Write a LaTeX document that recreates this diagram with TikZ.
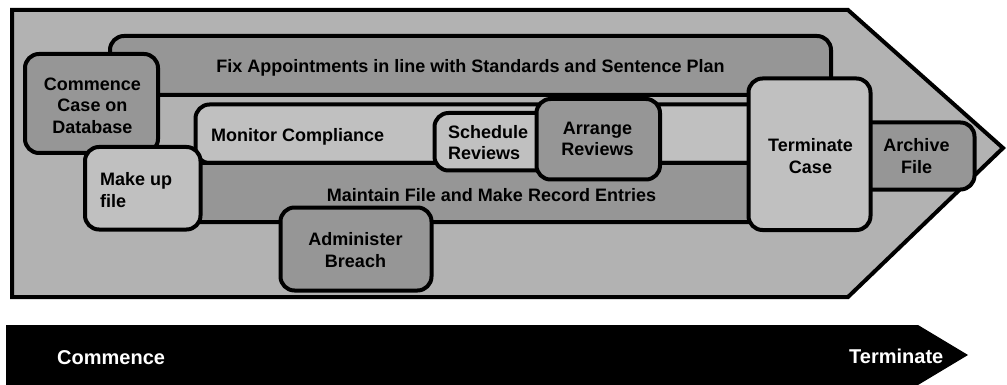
\documentclass[tikz,border=0pt]{standalone}
\usepackage{fontspec}
\setmainfont{Liberation Sans}
\definecolor{shellgray}{RGB}{178,178,178}
\definecolor{darkbox}{RGB}{150,150,150}
\definecolor{lightbox}{RGB}{192,192,192}
\tikzset{
  box/.style={draw=black, line width=4pt, rounded corners=14pt, inner sep=0pt},
  darkfill/.style={box, fill=darkbox},
  lightfill/.style={box, fill=lightbox},
  lbl/.style={inner sep=0pt, font=\bfseries\fontsize{18}{21.5}\selectfont, text=black},
  barlbl/.style={inner sep=0pt, font=\bfseries\fontsize{20}{24}\selectfont, text=white},
  sz/.style 2 args={minimum width=#1pt, minimum height=#2pt},
}
\begin{document}
\begin{tikzpicture}[x=1pt, y=-1pt]
\useasboundingbox (0,0) rectangle (1007,385);

% process chevron
\draw[line width=4pt, line join=miter, fill=shellgray]
  (12,10) -- (848,10) -- (1003,148) -- (848,297) -- (12,297) -- cycle;

% long-running activities and individual steps
\node[darkfill, sz={721}{59}] (fix) at (470.5,65.5) {};
\node[lbl, anchor=base] (fixtxt) at (470.5,73) {Fix Appointments in line with Standards and Sentence Plan};

\node[darkfill, sz={133}{99}] (commence) at (91.5,103.5) {};
\node[lbl, align=center] (commencetxt) at (92.5,105.4) {Commence\\Case on\\Database};

\node[lightfill, sz={604.5}{58.5}] (monitor) at (497.75,133.75) {};
\node[lbl, anchor=base west] (monitortxt) at (211,141.7) {Monitor Compliance};

\node[darkfill, sz={630}{59}] (maintain) at (485,192.5) {};
\node[lbl, anchor=base] (maintaintxt) at (491.5,201) {Maintain File and Make Record Entries};

\node[lightfill, sz={115.5}{82.5}] (makeup) at (142.75,188.25) {};
\node[lbl, align=left, anchor=west] (makeuptxt) at (100,189.9) {Make up\\file};

\node[darkfill, sz={151}{83}] (breach) at (356,249) {};
\node[lbl, align=center] (breachtxt) at (355.5,249.9) {Administer\\Breach};

\node[lightfill, sz={125.5}{57.5}] (schedule) at (497.25,141.75) {};
\node[lbl, align=left, anchor=west] (scheduletxt) at (448,142.5) {Schedule\\Reviews};

\node[darkfill, sz={123.5}{80.5}] (arrange) at (598.25,139.25) {};
\node[lbl, align=center] (arrangetxt) at (597.5,139) {Arrange\\Reviews};

\node[darkfill, sz={124.5}{67}] (archive) at (912.25,156) {};
\node[lbl, align=center] (archivetxt) at (916.5,156) {Archive\\File};

\node[lightfill, sz={122}{151.5}] (terminate) at (809.5,154.25) {};
\node[lbl, align=center] (terminatetxt) at (810.5,156) {Terminate\\Case};

% timeline arrow
\fill[black] (6,325) -- (918,325) -- (968,355) -- (918,385) -- (6,385) -- cycle;
\node[barlbl, anchor=base west] (startlbl) at (57,364) {Commence};
\node[barlbl, anchor=base west] (endlbl) at (849,363) {Terminate};
\end{tikzpicture}
\end{document}
